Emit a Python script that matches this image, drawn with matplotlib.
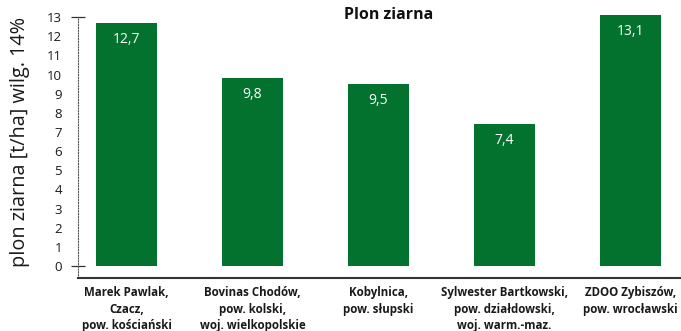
import matplotlib.pyplot as plt

plt.rcParams['font.family'] = ['Open Sans', 'DejaVu Sans']

# grain yield per farm, t/ha at 14% moisture
farms = [
    "Marek Pawlak,\nCzacz,\npow. kościański",
    "Bovinas Chodów,\npow. kolski,\nwoj. wielkopolskie",
    "Kobylnica,\npow. słupski",
    "Sylwester Bartkowski,\npow. działdowski,\nwoj. warm.-maz.",
    "ZDOO Zybiszów,\npow. wrocławski",
]
yields = [12.7, 9.8, 9.5, 7.4, 13.1]
y_ticks = list(range(0, 14))

green = "#04722f"

fig = plt.figure(figsize=(6.81, 3.31), dpi=100)
ax = fig.add_axes([78 / 681, 1 - 278 / 331, 1 - 78 / 681, 278 / 331])

x = list(range(len(farms)))
bars = ax.bar(x, yields, width=0.484, color=green, zorder=2)

for b, v in zip(bars, yields):
    ax.annotate(f"{v:.1f}".replace(".", ","),
                (b.get_x() + b.get_width() / 2, v),
                xytext=(0, -6.5), textcoords="offset points",
                ha="center", va="top", color="white", fontsize=10)

ax.set_xlim(-0.385, 4.40)
ax.set_ylim(-0.63, 13.9)

# spines: dotted y axis, solid baseline below zero
for s in ("top", "right"):
    ax.spines[s].set_visible(False)
ax.spines["left"].set_linestyle((0, (1, 1.5)))
ax.spines["left"].set_linewidth(0.8)
ax.spines["left"].set_color("#555555")
ax.spines["left"].set_bounds(-0.63, 13)
ax.spines["bottom"].set_linewidth(1.5)
ax.spines["bottom"].set_color("#333333")

ax.yaxis.remove_overlapping_locs = False
ax.set_yticks(y_ticks)
ax.set_yticklabels([str(t) for t in y_ticks], fontsize=9.5, color="#1a1a1a")
ax.set_yticks([0, 13], minor=True)
ax.tick_params(axis="y", which="major", length=0, pad=11.5)
ax.tick_params(axis="y", which="minor", length=10, width=0.9,
               direction="inout", color="#333333")

ax.set_xticks(x)
ax.set_xticklabels(farms, fontsize=8.3, fontweight="bold",
                   color="#1a1a1a", linespacing=1.35)
ax.tick_params(axis="x", length=0, pad=6)

fig.text(0.029, 0.57, "plon ziarna [t/ha] wilg. 14%", rotation=90,
         ha="center", va="center", fontsize=14.3, color="#1a1a1a")
fig.text(0.57, 0.955, "Plon ziarna", ha="center", va="center",
         fontsize=11.5, fontweight="bold", color="#111111")

fig.savefig("out.png", dpi=100)
